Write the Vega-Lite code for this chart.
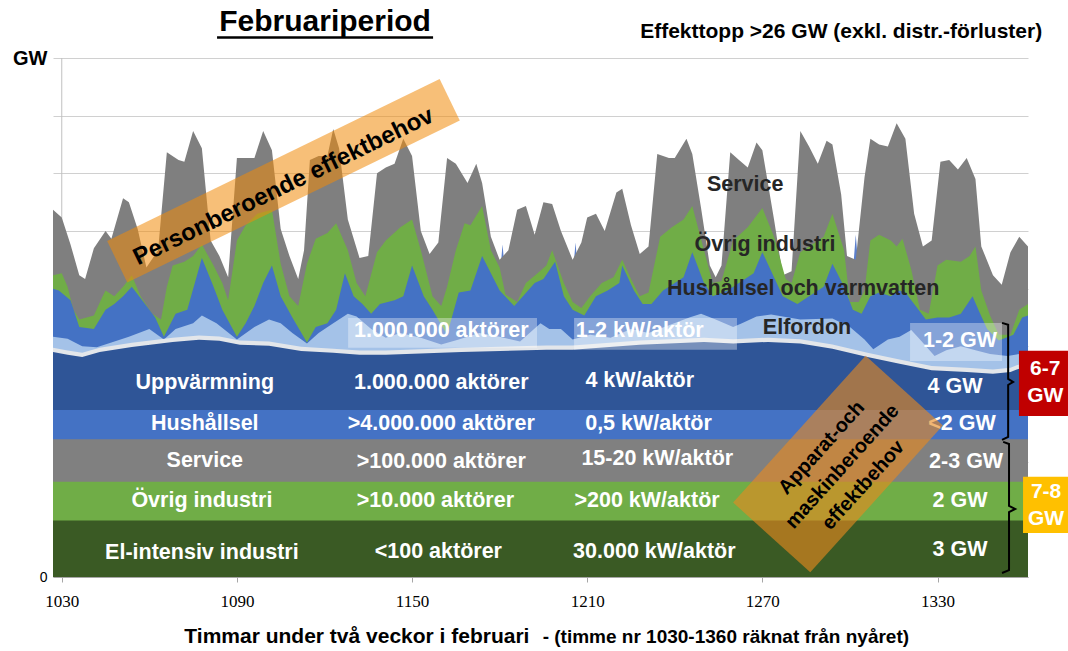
{
  "$schema": "https://vega.github.io/schema/vega-lite/v6.json",
  "width": 975,
  "height": 519,
  "autosize": {"type": "none"},
  "padding": {"left": 53, "top": 58, "right": 40, "bottom": 74},
  "background": "white",
  "config": {"view": {"stroke": null}, "font": "Liberation Sans"},
  "datasets": {
    "axellinje": [{"timme": 1030, "niva": 0, "niva2": 27}],
    "hushall_bakom": [
      {"timme": 1027, "niva": 12}, {"timme": 1178, "niva": 12}, {"timme": 1181, "niva": 17.3}, {"timme": 1184, "niva": 12},
      {"timme": 1203, "niva": 12}, {"timme": 1206, "niva": 17.4}, {"timme": 1209, "niva": 12},
      {"timme": 1299, "niva": 12}, {"timme": 1302, "niva": 17.8}, {"timme": 1305, "niva": 12}, {"timme": 1361, "niva": 12}
    ],
    "service_topp": [
      {"timme": 1027, "niva": 19.1}, {"timme": 1030, "niva": 18.7}, {"timme": 1033, "niva": 17.3}, {"timme": 1036, "niva": 15.7},
      {"timme": 1038, "niva": 15.5}, {"timme": 1041, "niva": 17.1}, {"timme": 1045, "niva": 18.0}, {"timme": 1047, "niva": 17.6},
      {"timme": 1051, "niva": 19.7}, {"timme": 1053, "niva": 19.5}, {"timme": 1056, "niva": 18.1}, {"timme": 1059, "niva": 16.1},
      {"timme": 1063, "niva": 17.0}, {"timme": 1066, "niva": 22.1}, {"timme": 1070, "niva": 21.7}, {"timme": 1072, "niva": 21.6},
      {"timme": 1075, "niva": 23.2}, {"timme": 1078, "niva": 22.3}, {"timme": 1081, "niva": 17.5}, {"timme": 1084, "niva": 16.7},
      {"timme": 1087, "niva": 15.6}, {"timme": 1090, "niva": 21.8}, {"timme": 1092, "niva": 21.8}, {"timme": 1096, "niva": 21.8},
      {"timme": 1099, "niva": 23.2}, {"timme": 1102, "niva": 22.2}, {"timme": 1105, "niva": 18.1}, {"timme": 1108, "niva": 16.7},
      {"timme": 1111, "niva": 15.5}, {"timme": 1113, "niva": 17.0}, {"timme": 1115, "niva": 21.7}, {"timme": 1118, "niva": 21.9},
      {"timme": 1121, "niva": 21.9}, {"timme": 1123, "niva": 23.3}, {"timme": 1125, "niva": 22.3}, {"timme": 1128, "niva": 18.6},
      {"timme": 1132, "niva": 16.6}, {"timme": 1135, "niva": 16.7}, {"timme": 1138, "niva": 21.0}, {"timme": 1141, "niva": 21.3},
      {"timme": 1144, "niva": 21.5}, {"timme": 1147, "niva": 22.8}, {"timme": 1150, "niva": 21.9}, {"timme": 1153, "niva": 18.0},
      {"timme": 1156, "niva": 16.8}, {"timme": 1159, "niva": 17.4}, {"timme": 1162, "niva": 21.8}, {"timme": 1165, "niva": 21.5},
      {"timme": 1169, "niva": 20.5}, {"timme": 1172, "niva": 21.5}, {"timme": 1174, "niva": 20.5}, {"timme": 1177, "niva": 17.7},
      {"timme": 1180, "niva": 16.5}, {"timme": 1183, "niva": 17.0}, {"timme": 1186, "niva": 19.1}, {"timme": 1189, "niva": 19.3},
      {"timme": 1192, "niva": 17.8}, {"timme": 1195, "niva": 19.5}, {"timme": 1198, "niva": 19.4}, {"timme": 1201, "niva": 18.0},
      {"timme": 1205, "niva": 16.5}, {"timme": 1208, "niva": 17.4}, {"timme": 1210, "niva": 18.7}, {"timme": 1213, "niva": 18.9},
      {"timme": 1216, "niva": 18.0}, {"timme": 1220, "niva": 20.0}, {"timme": 1222, "niva": 20.2}, {"timme": 1225, "niva": 18.3},
      {"timme": 1228, "niva": 16.8}, {"timme": 1231, "niva": 17.2}, {"timme": 1234, "niva": 22.0}, {"timme": 1238, "niva": 21.8},
      {"timme": 1240, "niva": 21.8}, {"timme": 1244, "niva": 22.8}, {"timme": 1246, "niva": 22.0}, {"timme": 1249, "niva": 19.2},
      {"timme": 1252, "niva": 16.2}, {"timme": 1254, "niva": 15.6}, {"timme": 1256, "niva": 16.2}, {"timme": 1259, "niva": 22.1},
      {"timme": 1262, "niva": 21.7}, {"timme": 1265, "niva": 21.3}, {"timme": 1268, "niva": 22.6}, {"timme": 1270, "niva": 22.2},
      {"timme": 1274, "niva": 18.6}, {"timme": 1277, "niva": 15.7}, {"timme": 1280, "niva": 15.9}, {"timme": 1283, "niva": 23.2},
      {"timme": 1286, "niva": 22.4}, {"timme": 1289, "niva": 21.5}, {"timme": 1292, "niva": 22.7}, {"timme": 1294, "niva": 22.5},
      {"timme": 1297, "niva": 19.9}, {"timme": 1299, "niva": 16.7}, {"timme": 1302, "niva": 16.5}, {"timme": 1305, "niva": 20.8},
      {"timme": 1307, "niva": 22.8}, {"timme": 1310, "niva": 22.5}, {"timme": 1313, "niva": 22.4}, {"timme": 1316, "niva": 23.6},
      {"timme": 1319, "niva": 22.8}, {"timme": 1322, "niva": 18.9}, {"timme": 1325, "niva": 17.2}, {"timme": 1328, "niva": 17.5},
      {"timme": 1331, "niva": 21.6}, {"timme": 1334, "niva": 21.7}, {"timme": 1337, "niva": 21.2}, {"timme": 1340, "niva": 21.8},
      {"timme": 1343, "niva": 20.7}, {"timme": 1345, "niva": 17.2}, {"timme": 1349, "niva": 15.7}, {"timme": 1352, "niva": 15.2},
      {"timme": 1355, "niva": 16.9}, {"timme": 1358, "niva": 17.7}, {"timme": 1361, "niva": 17.2}
    ],
    "ovrig_topp": [
      {"timme": 1027, "niva": 15.7}, {"timme": 1030, "niva": 15.8}, {"timme": 1032, "niva": 15.1}, {"timme": 1034, "niva": 13.9},
      {"timme": 1036, "niva": 13.4}, {"timme": 1041, "niva": 13.6}, {"timme": 1044, "niva": 14.6}, {"timme": 1045, "niva": 14.9},
      {"timme": 1048, "niva": 14.6}, {"timme": 1051, "niva": 15.1}, {"timme": 1054, "niva": 15.7}, {"timme": 1057, "niva": 14.6},
      {"timme": 1061, "niva": 13.7}, {"timme": 1064, "niva": 13.4}, {"timme": 1066, "niva": 15.1}, {"timme": 1068, "niva": 16.2},
      {"timme": 1072, "niva": 16.4}, {"timme": 1075, "niva": 16.7}, {"timme": 1078, "niva": 17.3}, {"timme": 1082, "niva": 16.2},
      {"timme": 1085, "niva": 15.3}, {"timme": 1087, "niva": 14.4}, {"timme": 1090, "niva": 17.5}, {"timme": 1093, "niva": 18.3},
      {"timme": 1097, "niva": 18.9}, {"timme": 1102, "niva": 19.1}, {"timme": 1105, "niva": 16.3}, {"timme": 1108, "niva": 14.6},
      {"timme": 1111, "niva": 14.1}, {"timme": 1114, "niva": 16.3}, {"timme": 1117, "niva": 17.6}, {"timme": 1121, "niva": 17.9},
      {"timme": 1124, "niva": 18.4}, {"timme": 1128, "niva": 17.0}, {"timme": 1131, "niva": 15.3}, {"timme": 1134, "niva": 14.6},
      {"timme": 1138, "niva": 16.9}, {"timme": 1141, "niva": 17.5}, {"timme": 1146, "niva": 18.2}, {"timme": 1150, "niva": 18.6},
      {"timme": 1153, "niva": 17.0}, {"timme": 1157, "niva": 14.6}, {"timme": 1160, "niva": 14.1}, {"timme": 1162, "niva": 15.1},
      {"timme": 1165, "niva": 17.0}, {"timme": 1168, "niva": 18.4}, {"timme": 1170, "niva": 18.3}, {"timme": 1174, "niva": 19.3},
      {"timme": 1177, "niva": 17.0}, {"timme": 1180, "niva": 16.1}, {"timme": 1182, "niva": 14.7}, {"timme": 1186, "niva": 14.3},
      {"timme": 1189, "niva": 15.3}, {"timme": 1193, "niva": 15.8}, {"timme": 1196, "niva": 16.2}, {"timme": 1198, "niva": 17.0},
      {"timme": 1202, "niva": 15.3}, {"timme": 1205, "niva": 14.3}, {"timme": 1208, "niva": 14.0}, {"timme": 1211, "niva": 14.6},
      {"timme": 1215, "niva": 15.3}, {"timme": 1219, "niva": 15.6}, {"timme": 1222, "niva": 16.5}, {"timme": 1225, "niva": 15.5},
      {"timme": 1228, "niva": 14.6}, {"timme": 1231, "niva": 14.8}, {"timme": 1235, "niva": 17.7}, {"timme": 1239, "niva": 18.2},
      {"timme": 1243, "niva": 18.6}, {"timme": 1246, "niva": 19.3}, {"timme": 1250, "niva": 17.0}, {"timme": 1253, "niva": 15.3},
      {"timme": 1256, "niva": 15.4}, {"timme": 1260, "niva": 17.5}, {"timme": 1265, "niva": 18.2}, {"timme": 1270, "niva": 19.2},
      {"timme": 1274, "niva": 17.7}, {"timme": 1278, "niva": 15.5}, {"timme": 1280, "niva": 15.3}, {"timme": 1283, "niva": 16.9},
      {"timme": 1286, "niva": 17.2}, {"timme": 1291, "niva": 17.7}, {"timme": 1294, "niva": 18.9}, {"timme": 1298, "niva": 17.0},
      {"timme": 1300, "niva": 14.3}, {"timme": 1303, "niva": 14.3}, {"timme": 1305, "niva": 14.9}, {"timme": 1307, "niva": 17.5},
      {"timme": 1310, "niva": 17.8}, {"timme": 1314, "niva": 17.5}, {"timme": 1316, "niva": 17.2}, {"timme": 1318, "niva": 17.6},
      {"timme": 1321, "niva": 16.0}, {"timme": 1324, "niva": 13.9}, {"timme": 1327, "niva": 13.7}, {"timme": 1330, "niva": 16.2},
      {"timme": 1333, "niva": 16.5}, {"timme": 1338, "niva": 16.4}, {"timme": 1341, "niva": 16.7}, {"timme": 1343, "niva": 17.2},
      {"timme": 1345, "niva": 14.9}, {"timme": 1348, "niva": 13.6}, {"timme": 1351, "niva": 12.6}, {"timme": 1355, "niva": 12.6},
      {"timme": 1358, "niva": 13.9}, {"timme": 1361, "niva": 14.2}
    ],
    "hushall_topp": [
      {"timme": 1027, "niva": 15.0}, {"timme": 1029, "niva": 14.9}, {"timme": 1033, "niva": 14.4}, {"timme": 1036, "niva": 13.0},
      {"timme": 1041, "niva": 12.9}, {"timme": 1045, "niva": 13.9}, {"timme": 1048, "niva": 14.2}, {"timme": 1051, "niva": 14.6},
      {"timme": 1054, "niva": 15.1}, {"timme": 1058, "niva": 14.3}, {"timme": 1062, "niva": 13.5}, {"timme": 1065, "niva": 12.5},
      {"timme": 1069, "niva": 13.7}, {"timme": 1073, "niva": 13.9}, {"timme": 1078, "niva": 16.6}, {"timme": 1082, "niva": 15.1},
      {"timme": 1085, "niva": 13.9}, {"timme": 1090, "niva": 12.5}, {"timme": 1093, "niva": 13.2}, {"timme": 1096, "niva": 14.1},
      {"timme": 1099, "niva": 15.3}, {"timme": 1102, "niva": 16.2}, {"timme": 1105, "niva": 14.6}, {"timme": 1109, "niva": 13.5},
      {"timme": 1114, "niva": 12.2}, {"timme": 1117, "niva": 13.0}, {"timme": 1121, "niva": 13.2}, {"timme": 1124, "niva": 13.9},
      {"timme": 1127, "niva": 15.8}, {"timme": 1130, "niva": 14.6}, {"timme": 1133, "niva": 14.2}, {"timme": 1136, "niva": 13.7},
      {"timme": 1139, "niva": 14.2}, {"timme": 1144, "niva": 14.4}, {"timme": 1147, "niva": 14.6}, {"timme": 1150, "niva": 16.2},
      {"timme": 1154, "niva": 14.6}, {"timme": 1157, "niva": 13.9}, {"timme": 1162, "niva": 12.6}, {"timme": 1166, "niva": 14.8},
      {"timme": 1170, "niva": 14.9}, {"timme": 1174, "niva": 16.7}, {"timme": 1177, "niva": 15.8}, {"timme": 1180, "niva": 14.9},
      {"timme": 1185, "niva": 14.1}, {"timme": 1188, "niva": 14.6}, {"timme": 1192, "niva": 15.3}, {"timme": 1195, "niva": 15.5},
      {"timme": 1199, "niva": 16.4}, {"timme": 1202, "niva": 14.6}, {"timme": 1205, "niva": 13.9}, {"timme": 1209, "niva": 13.6},
      {"timme": 1213, "niva": 14.6}, {"timme": 1217, "niva": 14.9}, {"timme": 1221, "niva": 15.3}, {"timme": 1222, "niva": 16.2},
      {"timme": 1226, "niva": 14.9}, {"timme": 1229, "niva": 14.2}, {"timme": 1232, "niva": 14.2}, {"timme": 1236, "niva": 14.9},
      {"timme": 1240, "niva": 15.3}, {"timme": 1243, "niva": 15.6}, {"timme": 1246, "niva": 16.9}, {"timme": 1250, "niva": 15.3},
      {"timme": 1253, "niva": 14.6}, {"timme": 1258, "niva": 14.9}, {"timme": 1262, "niva": 15.3}, {"timme": 1267, "niva": 15.8},
      {"timme": 1270, "niva": 16.9}, {"timme": 1274, "niva": 15.6}, {"timme": 1277, "niva": 14.6}, {"timme": 1282, "niva": 14.2},
      {"timme": 1286, "niva": 14.6}, {"timme": 1291, "niva": 15.1}, {"timme": 1294, "niva": 16.3}, {"timme": 1298, "niva": 15.1},
      {"timme": 1301, "niva": 13.9}, {"timme": 1304, "niva": 13.7}, {"timme": 1307, "niva": 14.6}, {"timme": 1310, "niva": 14.8},
      {"timme": 1314, "niva": 14.6}, {"timme": 1317, "niva": 14.9}, {"timme": 1319, "niva": 14.8}, {"timme": 1322, "niva": 14.2},
      {"timme": 1326, "niva": 13.4}, {"timme": 1330, "niva": 13.5}, {"timme": 1334, "niva": 13.5}, {"timme": 1338, "niva": 13.7},
      {"timme": 1342, "niva": 14.6}, {"timme": 1344, "niva": 13.9}, {"timme": 1347, "niva": 12.9}, {"timme": 1351, "niva": 12.3},
      {"timme": 1356, "niva": 12.6}, {"timme": 1359, "niva": 13.5}, {"timme": 1361, "niva": 13.6}
    ],
    "elfordon_topp": [
      {"timme": 1027, "niva": 12.5}, {"timme": 1032, "niva": 12.4}, {"timme": 1037, "niva": 12.0}, {"timme": 1042, "niva": 11.95},
      {"timme": 1047, "niva": 12.2}, {"timme": 1053, "niva": 12.5}, {"timme": 1060, "niva": 12.9}, {"timme": 1065, "niva": 12.35},
      {"timme": 1069, "niva": 12.9}, {"timme": 1075, "niva": 13.2}, {"timme": 1078, "niva": 13.6}, {"timme": 1083, "niva": 13.2},
      {"timme": 1090, "niva": 12.35}, {"timme": 1096, "niva": 13.0}, {"timme": 1101, "niva": 13.4}, {"timme": 1105, "niva": 13.2},
      {"timme": 1109, "niva": 12.7}, {"timme": 1114, "niva": 12.15}, {"timme": 1118, "niva": 12.7}, {"timme": 1123, "niva": 13.2},
      {"timme": 1128, "niva": 13.7}, {"timme": 1131, "niva": 13.55}, {"timme": 1136, "niva": 12.9}, {"timme": 1141, "niva": 12.45},
      {"timme": 1146, "niva": 12.7}, {"timme": 1153, "niva": 12.45}, {"timme": 1160, "niva": 12.1}, {"timme": 1166, "niva": 12.35},
      {"timme": 1173, "niva": 12.7}, {"timme": 1180, "niva": 12.5}, {"timme": 1187, "niva": 12.25}, {"timme": 1194, "niva": 13.2},
      {"timme": 1197, "niva": 12.9}, {"timme": 1201, "niva": 12.9}, {"timme": 1205, "niva": 12.35}, {"timme": 1211, "niva": 12.6},
      {"timme": 1218, "niva": 12.45}, {"timme": 1225, "niva": 12.9}, {"timme": 1231, "niva": 12.7}, {"timme": 1238, "niva": 13.1},
      {"timme": 1245, "niva": 13.5}, {"timme": 1249, "niva": 13.7}, {"timme": 1254, "niva": 13.4}, {"timme": 1260, "niva": 13.0},
      {"timme": 1263, "niva": 13.2}, {"timme": 1268, "niva": 13.55}, {"timme": 1273, "niva": 13.65}, {"timme": 1283, "niva": 13.4},
      {"timme": 1294, "niva": 13.45}, {"timme": 1300, "niva": 13.0}, {"timme": 1305, "niva": 12.35}, {"timme": 1308, "niva": 11.85},
      {"timme": 1313, "niva": 12.35}, {"timme": 1317, "niva": 12.5}, {"timme": 1321, "niva": 12.85}, {"timme": 1324, "niva": 12.35},
      {"timme": 1329, "niva": 11.5}, {"timme": 1333, "niva": 11.8}, {"timme": 1338, "niva": 12.0}, {"timme": 1343, "niva": 11.8},
      {"timme": 1348, "niva": 11.6}, {"timme": 1354, "niva": 11.5}, {"timme": 1358, "niva": 11.6}, {"timme": 1361, "niva": 11.7}
    ],
    "kant_topp": [
      {"timme": 1027, "niva": 11.93}, {"timme": 1032, "niva": 11.78}, {"timme": 1037, "niva": 11.67}, {"timme": 1043, "niva": 11.93},
      {"timme": 1054, "niva": 12.19}, {"timme": 1068, "niva": 12.45}, {"timme": 1077, "niva": 12.56}, {"timme": 1084, "niva": 12.51},
      {"timme": 1091, "niva": 12.30}, {"timme": 1101, "niva": 12.25}, {"timme": 1112, "niva": 11.98}, {"timme": 1123, "niva": 11.88},
      {"timme": 1132, "niva": 11.78}, {"timme": 1141, "niva": 11.78}, {"timme": 1167, "niva": 11.93}, {"timme": 1196, "niva": 12.04},
      {"timme": 1205, "niva": 12.04}, {"timme": 1228, "niva": 12.30}, {"timme": 1250, "niva": 12.45}, {"timme": 1260, "niva": 12.37},
      {"timme": 1272, "niva": 12.45}, {"timme": 1283, "niva": 12.37}, {"timme": 1294, "niva": 12.10}, {"timme": 1306, "niva": 11.67},
      {"timme": 1317, "niva": 11.32}, {"timme": 1328, "niva": 10.98}, {"timme": 1340, "niva": 10.89}, {"timme": 1349, "niva": 10.80},
      {"timme": 1355, "niva": 10.89}, {"timme": 1358, "niva": 11.06}, {"timme": 1361, "niva": 11.15}
    ],
    "uppvarmning_topp": [
      {"timme": 1027, "niva": 11.71}, {"timme": 1032, "niva": 11.56}, {"timme": 1037, "niva": 11.45}, {"timme": 1043, "niva": 11.71},
      {"timme": 1054, "niva": 11.97}, {"timme": 1068, "niva": 12.23}, {"timme": 1077, "niva": 12.34}, {"timme": 1084, "niva": 12.29},
      {"timme": 1091, "niva": 12.08}, {"timme": 1101, "niva": 12.03}, {"timme": 1112, "niva": 11.76}, {"timme": 1123, "niva": 11.66},
      {"timme": 1132, "niva": 11.56}, {"timme": 1141, "niva": 11.56}, {"timme": 1167, "niva": 11.71}, {"timme": 1196, "niva": 11.82},
      {"timme": 1205, "niva": 11.82}, {"timme": 1228, "niva": 12.08}, {"timme": 1250, "niva": 12.23}, {"timme": 1260, "niva": 12.15},
      {"timme": 1272, "niva": 12.23}, {"timme": 1283, "niva": 12.15}, {"timme": 1294, "niva": 11.88}, {"timme": 1306, "niva": 11.45},
      {"timme": 1317, "niva": 11.10}, {"timme": 1328, "niva": 10.76}, {"timme": 1340, "niva": 10.67}, {"timme": 1349, "niva": 10.58},
      {"timme": 1355, "niva": 10.67}, {"timme": 1358, "niva": 10.84}, {"timme": 1361, "niva": 10.93}
    ],
    "hushallsel_topp": [{"timme": 1027, "niva": 8.69}, {"timme": 1361, "niva": 8.69}],
    "service_bas_topp": [{"timme": 1027, "niva": 7.17}, {"timme": 1361, "niva": 7.17}],
    "ovrig_bas_topp": [{"timme": 1027, "niva": 4.95}, {"timme": 1361, "niva": 4.95}],
    "elintensiv_topp": [{"timme": 1027, "niva": 2.94}, {"timme": 1361, "niva": 2.94}],
    "etikettrutor": [
      {"timme": 1128.1, "timme2": 1192.8, "niva": 11.92, "niva2": 13.48},
      {"timme": 1205.5, "timme2": 1261.3, "niva": 11.82, "niva2": 13.48},
      {"timme": 1320.6, "timme2": 1352.1, "niva": 11.24, "niva2": 13.22}
    ],
    "vita_etiketter": [
      {"tekst": "Uppvärmning", "timme": 1079, "niva": 10.1},
      {"tekst": "Hushållsel", "timme": 1079, "niva": 7.97},
      {"tekst": "Service", "timme": 1079, "niva": 6.04},
      {"tekst": "Övrig industri", "timme": 1078, "niva": 3.96},
      {"tekst": "El-intensiv industri", "timme": 1078, "niva": 1.25},
      {"tekst": "1.000.000 aktörer", "timme": 1160, "niva": 12.81},
      {"tekst": "1.000.000 aktörer", "timme": 1160, "niva": 10.1},
      {"tekst": ">4.000.000 aktörer", "timme": 1160, "niva": 7.97},
      {"tekst": ">100.000 aktörer", "timme": 1160, "niva": 5.99},
      {"tekst": ">10.000 aktörer", "timme": 1158, "niva": 3.96},
      {"tekst": "<100 aktörer", "timme": 1159, "niva": 1.3},
      {"tekst": "1-2 kW/aktör", "timme": 1228, "niva": 12.81},
      {"tekst": "4 kW/aktör", "timme": 1228, "niva": 10.2},
      {"tekst": "0,5 kW/aktör", "timme": 1231, "niva": 7.97},
      {"tekst": "15-20 kW/aktör", "timme": 1234, "niva": 6.14},
      {"tekst": ">200 kW/aktör", "timme": 1230.5, "niva": 3.96},
      {"tekst": "30.000 kW/aktör", "timme": 1233, "niva": 1.3},
      {"tekst": "1-2 GW", "timme": 1337.7, "niva": 12.29},
      {"tekst": "4 GW", "timme": 1336, "niva": 9.89},
      {"tekst": "<2 GW", "timme": 1338.4, "niva": 7.97},
      {"tekst": "2-3 GW", "timme": 1339.8, "niva": 5.99},
      {"tekst": "2 GW", "timme": 1337.7, "niva": 3.96},
      {"tekst": "3 GW", "timme": 1337.7, "niva": 1.41}
    ],
    "morka_etiketter": [
      {"tekst": "Service", "timme": 1264.1, "niva": 20.41},
      {"tekst": "Övrig industri", "timme": 1270.9, "niva": 17.28},
      {"tekst": "Hushållsel och varmvatten", "timme": 1284, "niva": 14.99},
      {"tekst": "Elfordon", "timme": 1285.3, "niva": 12.96}
    ],
    "band_person": [{"timme": 1049.0, "niva": 16.4, "timme2": 1162.9, "niva2": 24.83}],
    "band_apparat": [{"timme": 1273.2, "niva": 2.06, "timme2": 1318.6, "niva2": 9.69}],
    "text_person": [{"tekst": "Personberoende effektbehov", "timme": 1106, "niva": 20.3}],
    "text_apparat": [{"tekst": "Apparat-och\nmaskinberoende\neffektbehov", "timme": 1290.3, "niva": 6.72}],
    "klamrar": [
      {"klammer": "A", "ordning": 1, "timme": 1352.1, "niva": 13.22},
      {"klammer": "A", "ordning": 2, "timme": 1354.2, "niva": 13.12},
      {"klammer": "A", "ordning": 3, "timme": 1354.2, "niva": 10.31},
      {"klammer": "A", "ordning": 4, "timme": 1355.9, "niva": 10.15},
      {"klammer": "A", "ordning": 5, "timme": 1354.2, "niva": 9.99},
      {"klammer": "A", "ordning": 6, "timme": 1354.2, "niva": 7.29},
      {"klammer": "A", "ordning": 7, "timme": 1352.1, "niva": 7.13},
      {"klammer": "B", "ordning": 1, "timme": 1352.5, "niva": 7.03},
      {"klammer": "B", "ordning": 2, "timme": 1354.5, "niva": 6.92},
      {"klammer": "B", "ordning": 3, "timme": 1354.5, "niva": 3.70},
      {"klammer": "B", "ordning": 4, "timme": 1356.6, "niva": 3.54},
      {"klammer": "B", "ordning": 5, "timme": 1354.5, "niva": 3.38},
      {"klammer": "B", "ordning": 6, "timme": 1354.5, "niva": 0.36},
      {"klammer": "B", "ordning": 7, "timme": 1352.1, "niva": 0.21}
    ],
    "ruta_rod": [{"timme": 1357.9, "timme2": 1374.7, "niva": 8.38, "niva2": 11.77}],
    "ruta_gul": [{"timme": 1359.3, "timme2": 1374.7, "niva": 2.29, "niva2": 5.21}],
    "rutetexter": [
      {"tekst": "6-7\nGW", "timme": 1366.9, "niva": 10.83},
      {"tekst": "7-8\nGW", "timme": 1367.2, "niva": 4.43}
    ],
    "rubrik": [{"tekst": "Februariperiod", "timme": 1120.2, "niva": 28.89}],
    "understrykning": [{"timme": 1083.2, "timme2": 1157.2, "niva": 28.06}],
    "effekttopp": [{"tekst": "Effekttopp >26 GW (exkl. distr.-förluster)", "timme": 1297, "niva": 28.37}],
    "xtitel1": [{"tekst": "Timmar under två veckor i februari", "timme": 1131.1, "niva": -3.12}],
    "xtitel2": [{"tekst": "- (timme nr 1030-1360 räknat från nyåret)", "timme": 1257.5, "niva": -3.12}]
  },
  "encoding": {
    "x": {
      "field": "timme", "type": "quantitative",
      "scale": {"domain": [1027, 1361], "nice": false, "zero": false},
      "axis": {
        "values": [1030, 1090, 1150, 1210, 1270, 1330], "format": "d", "title": null, "grid": false,
        "labelFont": "Liberation Sans Narrow", "labelFontSize": 17, "labelColor": "#000000", "labelFlush": false,
        "labelPadding": 11, "domainColor": "#A6A6A6", "tickColor": "#A6A6A6", "tickSize": 5
      }
    },
    "y": {
      "field": "niva", "type": "quantitative", "stack": null,
      "scale": {"domain": [0, 27], "nice": false, "zero": true},
      "axis": {
        "values": [0, 3, 6, 9, 12, 15, 18, 21, 24, 27], "title": null,
        "labelExpr": "datum.value == 0 ? '0' : (datum.value == 27 ? 'GW' : '')",
        "grid": true, "gridColor": "#D0D0D0", "domain": false, "ticks": false, "labelPadding": 6,
        "labelColor": "#000000", "labelFont": "Liberation Sans",
        "labelFontSize": {"condition": {"test": "datum.value == 27", "value": 20}, "value": 14},
        "labelFontWeight": {"condition": {"test": "datum.value == 27", "value": "bold"}, "value": "normal"}
      }
    }
  },
  "layer": [
    {"data": {"name": "axellinje"}, "mark": {"type": "rule", "color": "#C0C0C0", "strokeWidth": 1}, "encoding": {"y2": {"field": "niva2"}}},
    {"data": {"name": "hushall_bakom"}, "mark": {"type": "area", "color": "#5B7FCC"}, "encoding": {}},
    {"data": {"name": "service_topp"}, "mark": {"type": "area", "color": "#7F7F7F"}, "encoding": {}},
    {"data": {"name": "ovrig_topp"}, "mark": {"type": "area", "color": "#70AD47"}, "encoding": {}},
    {"data": {"name": "hushall_topp"}, "mark": {"type": "area", "color": "#4472C4"}, "encoding": {}},
    {"data": {"name": "elfordon_topp"}, "mark": {"type": "area", "color": "#A4C2E8"}, "encoding": {}},
    {"data": {"name": "kant_topp"}, "mark": {"type": "area", "color": "#E3E6EA"}, "encoding": {}},
    {"data": {"name": "uppvarmning_topp"}, "mark": {"type": "area", "color": "#2F5597"}, "encoding": {}},
    {"data": {"name": "hushallsel_topp"}, "mark": {"type": "area", "color": "#4472C4"}, "encoding": {}},
    {"data": {"name": "service_bas_topp"}, "mark": {"type": "area", "color": "#808080"}, "encoding": {}},
    {"data": {"name": "ovrig_bas_topp"}, "mark": {"type": "area", "color": "#70AD47"}, "encoding": {}},
    {"data": {"name": "elintensiv_topp"}, "mark": {"type": "area", "color": "#3A5A24"}, "encoding": {}},
    {"data": {"name": "etikettrutor"}, "mark": {"type": "rect", "color": "#FFFFFF", "opacity": 0.35}, "encoding": {"x2": {"field": "timme2"}, "y2": {"field": "niva2"}}},
    {"data": {"name": "vita_etiketter"}, "mark": {"type": "text", "color": "#FFFFFF", "font": "Liberation Sans", "fontWeight": "bold", "fontSize": 21.5, "align": "center", "baseline": "middle"}, "encoding": {"text": {"field": "tekst"}}},
    {"data": {"name": "morka_etiketter"}, "mark": {"type": "text", "color": "#262626", "font": "Liberation Sans", "fontWeight": "bold", "fontSize": 21.5, "align": "center", "baseline": "middle"}, "encoding": {"text": {"field": "tekst"}}},
    {"data": {"name": "band_person"}, "mark": {"type": "rule", "color": "#F08A0A", "opacity": 0.55, "strokeWidth": 46, "strokeCap": "butt"}, "encoding": {"x2": {"field": "timme2"}, "y2": {"field": "niva2"}}},
    {"data": {"name": "band_apparat"}, "mark": {"type": "rule", "color": "#E8891F", "opacity": 0.62, "strokeWidth": 104, "strokeCap": "butt"}, "encoding": {"x2": {"field": "timme2"}, "y2": {"field": "niva2"}}},
    {"data": {"name": "text_person"}, "mark": {"type": "text", "color": "#000000", "font": "Liberation Sans", "fontWeight": "bold", "fontSize": 24, "angle": -26, "align": "center", "baseline": "middle"}, "encoding": {"text": {"field": "tekst"}}},
    {"data": {"name": "text_apparat"}, "mark": {"type": "text", "color": "#000000", "font": "Liberation Sans", "fontWeight": "bold", "fontSize": 20, "angle": -48, "align": "center", "baseline": "middle", "lineBreak": "\n", "lineHeight": 28}, "encoding": {"text": {"field": "tekst"}}},
    {"data": {"name": "klamrar"}, "mark": {"type": "line", "color": "#000000", "strokeWidth": 2}, "encoding": {"detail": {"field": "klammer"}, "order": {"field": "ordning"}}},
    {"data": {"name": "ruta_rod"}, "mark": {"type": "rect", "color": "#C00000"}, "encoding": {"x2": {"field": "timme2"}, "y2": {"field": "niva2"}}},
    {"data": {"name": "ruta_gul"}, "mark": {"type": "rect", "color": "#FFC000"}, "encoding": {"x2": {"field": "timme2"}, "y2": {"field": "niva2"}}},
    {"data": {"name": "rutetexter"}, "mark": {"type": "text", "color": "#FFFFFF", "font": "Liberation Sans", "fontWeight": "bold", "fontSize": 21, "align": "center", "baseline": "middle", "lineBreak": "\n", "lineHeight": 27}, "encoding": {"text": {"field": "tekst"}}},
    {"data": {"name": "rubrik"}, "mark": {"type": "text", "color": "#000000", "font": "Liberation Sans", "fontWeight": "bold", "fontSize": 30, "align": "center", "baseline": "middle"}, "encoding": {"text": {"field": "tekst"}}},
    {"data": {"name": "understrykning"}, "mark": {"type": "rule", "color": "#000000", "strokeWidth": 2.5}, "encoding": {"x2": {"field": "timme2"}}},
    {"data": {"name": "effekttopp"}, "mark": {"type": "text", "color": "#000000", "font": "Liberation Sans", "fontWeight": "bold", "fontSize": 21, "align": "center", "baseline": "middle"}, "encoding": {"text": {"field": "tekst"}}},
    {"data": {"name": "xtitel1"}, "mark": {"type": "text", "color": "#000000", "font": "Liberation Sans", "fontWeight": "bold", "fontSize": 21, "align": "center", "baseline": "middle"}, "encoding": {"text": {"field": "tekst"}}},
    {"data": {"name": "xtitel2"}, "mark": {"type": "text", "color": "#000000", "font": "Liberation Sans", "fontWeight": "bold", "fontSize": 19, "align": "center", "baseline": "middle"}, "encoding": {"text": {"field": "tekst"}}}
  ]
}
